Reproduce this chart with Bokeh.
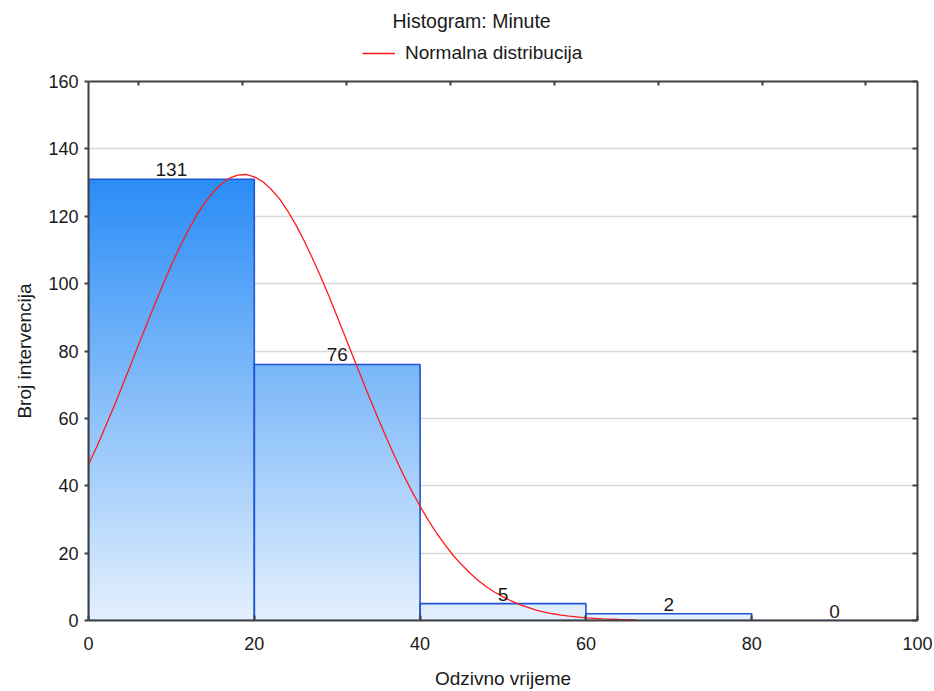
from bokeh.plotting import figure
from bokeh.layouts import column
from bokeh.models import (LinearAxis, FixedTicker, Legend, LegendItem, Range1d,
                          ColumnDataSource, CustomJSTickFormatter, Label)
from bokeh.embed import file_html
from bokeh.resources import INLINE

# ---- data ----
bin_edges = [0, 20, 40, 60, 80, 100]
counts = [131, 76, 5, 2, 0]
y_ticks = [0, 20, 40, 60, 80, 100, 120, 140, 160]
x_ticks = [0, 20, 40, 60, 80, 100]
top_ticks = [6.0, 18.6, 31.1, 43.7, 56.2, 68.8, 81.3, 93.7]
curve_x = [0, 1, 2, 3, 4, 5, 6, 7, 8, 9, 10, 11, 12, 13, 14, 15, 16, 17, 18,
           19, 20, 21, 22, 23, 24, 25, 26, 27, 28, 29, 30, 31, 32, 33, 34, 35,
           36, 37, 38, 39, 40, 41, 42, 43, 44, 45, 46, 47, 48, 49, 50, 51, 52,
           53, 54, 55, 56, 57, 58, 60, 62, 64, 66]
curve_y = [46.3, 51.6, 57.3, 63.1, 69.2, 75.3, 81.6, 87.8, 93.9, 99.8, 105.5,
           110.8, 115.7, 120.1, 123.9, 127.1, 129.5, 131.3, 132.2, 132.4, 131.7,
           130.3, 128.1, 125.3, 121.7, 117.5, 112.8, 107.6, 102.1, 96.3, 90.2,
           84.0, 77.8, 71.6, 65.5, 59.6, 53.9, 48.4, 43.2, 38.4, 33.9, 29.7,
           25.9, 22.5, 19.3, 16.6, 14.1, 11.9, 10.0, 8.4, 7.0, 5.8, 4.7, 3.9,
           3.1, 2.5, 2.0, 1.6, 1.3, 0.8, 0.5, 0.3, 0.2]
title_text = "Histogram: Minute"
legend_label = "Normalna distribucija"

FONT = "Liberation Sans"
TXT = "#1a1a1a"
RED = "#ff1a1a"

W = 934
HH = 70          # header height
BL, BR = 88, 17  # frame borders left/right

# ---------- header (title + legend) ----------
# column() aligns the frames of both figures, so the header's frame spans BL..W-BR
head = figure(width=W, height=HH, x_range=Range1d(BL, W - BR), y_range=Range1d(0, HH),
              output_backend="svg", toolbar_location=None,
              x_axis_location=None, y_axis_location=None,
              min_border=0, min_border_left=BL, min_border_right=BR,
              outline_line_color=None)
head.grid.visible = False
head.add_layout(Label(x=392, y=HH - 20, text=title_text, text_font=FONT,
                      text_font_size="19.5px", text_color=TXT,
                      text_baseline="middle", text_align="left"))
dummy = head.line(x=[float("nan")], y=[float("nan")], line_color=RED, line_width=1.3)
legend = Legend(items=[LegendItem(label=legend_label, renderers=[dummy])],
                location=(362 - BL, 6), orientation="horizontal",
                label_text_font=FONT, label_text_font_size="19px",
                label_text_color=TXT, glyph_width=33, label_standoff=10,
                padding=0, margin=0, border_line_color=None,
                background_fill_alpha=0)
head.add_layout(legend, "center")

# ---------- main chart ----------
p = figure(width=W, height=691 - HH, x_range=Range1d(0, 100), y_range=Range1d(0, 160),
           output_backend="svg", toolbar_location=None,
           min_border_left=BL, min_border_right=BR, min_border_top=81 - HH,
           min_border_bottom=70, outline_line_color=None)

# gradient bars: thin overlapping strips colored by height
c_bot = (228, 240, 253)
c_top = (42, 140, 246)
ymax = max(counts)
sl, sr, sb, st, sc = [], [], [], [], []
step = 1.0
for i, h in enumerate(counts):
    y0 = 0.0
    while y0 < h - 1e-9:
        y1 = min(y0 + step, h)
        t = ((y0 + y1) / 2) / ymax
        col = tuple(int(round(a + (b - a) * t)) for a, b in zip(c_bot, c_top))
        sl.append(bin_edges[i]); sr.append(bin_edges[i + 1])
        sb.append(y0); st.append(min(y1 + 0.5, h))
        sc.append("#%02x%02x%02x" % col)
        y0 = y1
p.quad(left=sl, right=sr, bottom=sb, top=st, fill_color=sc, line_color=None)

bars = ColumnDataSource(dict(left=bin_edges[:-1], right=bin_edges[1:],
                             top=counts, bottom=[0] * len(counts),
                             xc=[(a + b) / 2 for a, b in zip(bin_edges[:-1], bin_edges[1:])],
                             lab=[str(c) for c in counts]))
p.quad(left="left", right="right", top="top", bottom="bottom", source=bars,
       fill_color=None, line_color="#1f55d4", line_width=1.6)

p.line(curve_x, curve_y, line_color=RED, line_width=1.3)

p.text(x="xc", y="top", text="lab", source=bars, text_align="center",
       text_baseline="bottom", y_offset=-3, text_font_size="19px",
       text_font={"value": FONT}, text_color=TXT)

for ax in (p.xaxis[0], p.yaxis[0]):
    ax.axis_line_color = "#404040"
    ax.axis_line_width = 2
    ax.major_tick_line_color = "#404040"
    ax.major_tick_line_width = 2
    ax.minor_tick_line_color = None
    ax.major_label_text_font = FONT
    ax.major_label_text_font_size = "18px"
    ax.major_label_text_color = TXT
    ax.axis_label_text_font = FONT
    ax.axis_label_text_font_size = "19px"
    ax.axis_label_text_font_style = "normal"
    ax.axis_label_text_color = TXT

p.xaxis[0].ticker = FixedTicker(ticks=x_ticks)
p.xaxis[0].major_tick_in = 5
p.xaxis[0].major_tick_out = 0
p.xaxis[0].major_label_standoff = 16
p.xaxis[0].axis_label = "Odzivno vrijeme"
p.xaxis[0].axis_label_standoff = 15

p.yaxis[0].ticker = FixedTicker(ticks=y_ticks)
p.yaxis[0].major_tick_in = 0
p.yaxis[0].major_tick_out = 4
p.yaxis[0].major_label_standoff = 6
p.yaxis[0].axis_label = "Broj intervencija"
p.yaxis[0].axis_label_standoff = 10

blank = CustomJSTickFormatter(code="return ''")
right = LinearAxis(ticker=FixedTicker(ticks=y_ticks), formatter=blank,
                   axis_line_color="#404040", axis_line_width=2,
                   major_tick_line_color="#404040", major_tick_line_width=2,
                   major_tick_in=5, major_tick_out=0, minor_tick_line_color=None,
                   major_label_standoff=0)
p.add_layout(right, "right")
top = LinearAxis(ticker=FixedTicker(ticks=top_ticks), formatter=blank,
                 axis_line_color="#404040", axis_line_width=2,
                 major_tick_line_color="#404040", major_tick_line_width=2,
                 major_tick_in=4, major_tick_out=0, minor_tick_line_color=None,
                 major_label_standoff=0)
p.add_layout(top, "above")

p.xgrid.grid_line_color = None
p.ygrid.ticker = FixedTicker(ticks=y_ticks)
p.ygrid.grid_line_color = "#d9d9d9"
p.ygrid.grid_line_width = 1.5

layout = column(head, p, spacing=0)
open("out.html", "w").write(file_html(layout, INLINE))
